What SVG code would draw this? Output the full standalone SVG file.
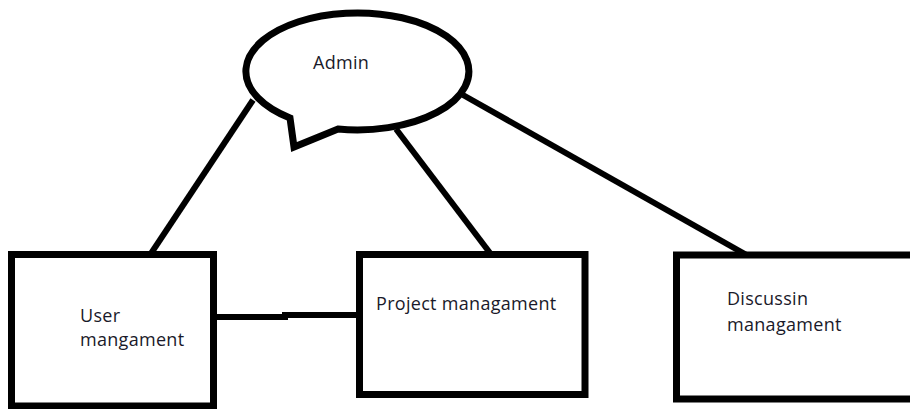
<svg xmlns="http://www.w3.org/2000/svg" width="910" height="409" viewBox="0 0 910 409">
<style>
.shape{fill:#ffffff;stroke:#000000;stroke-width:7;stroke-linejoin:miter}
.conn{fill:none;stroke:#000000;stroke-width:6}
.lbl{font-family:"Open Sans","Noto Sans","Liberation Sans",sans-serif;font-size:18px;letter-spacing:0.3px;fill:#1a1a2a}
</style>
<rect x="0" y="0" width="910" height="409" fill="#ffffff"/>
<g id="connectors">
<line class="conn" x1="253" y1="100" x2="150" y2="255"/>
<line class="conn" x1="396" y1="129" x2="490" y2="253"/>
<line class="conn" x1="463" y1="95" x2="752" y2="258"/>
<polyline class="conn" points="216,317 285,317 285,315 357,315"/>
</g>
<g id="admin">
<path class="shape" stroke-width="6.5" d="M 290 118 L 294 147 L 338 129 A 111.5 58.5 0 1 0 290 118 Z"/>
<text class="lbl" x="313" y="69">Admin</text>
</g>
<g id="user">
<rect class="shape" x="11.5" y="254.5" width="202" height="151.5"/>
<text class="lbl" x="80" y="322">User</text>
<text class="lbl" x="80" y="346">mangament</text>
</g>
<g id="project">
<rect class="shape" x="359.5" y="254.5" width="225.5" height="140"/>
<text class="lbl" x="376" y="310">Project managament</text>
</g>
<g id="discussion">
<rect class="shape" x="676.5" y="255" width="250" height="144"/>
<text class="lbl" x="727" y="305">Discussin</text>
<text class="lbl" x="727" y="331">managament</text>
</g>
</svg>
